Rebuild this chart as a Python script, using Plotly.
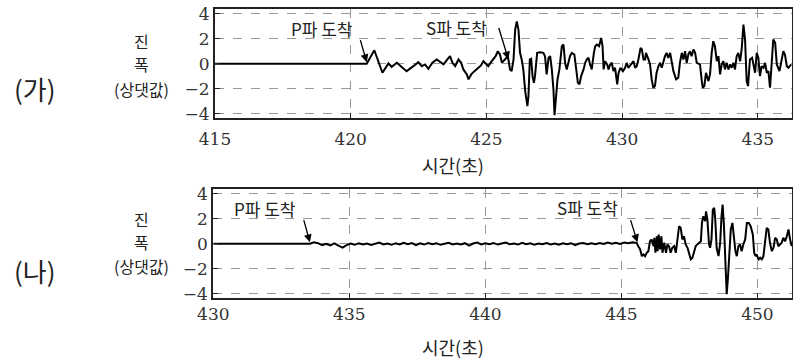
import plotly.graph_objects as go

# ---------------- data: (가) ----------------
ga_t = [415.0, 420.59, 420.87, 421.17, 421.39, 421.51, 421.70, 421.94, 422.06, 422.31, 422.49,
        422.62, 422.74, 422.86, 423.01, 423.17, 423.29, 423.42, 423.54, 423.66, 423.75,
        423.85, 423.97, 424.07, 424.15, 424.28, 424.34, 424.44, 424.56, 424.68, 424.80,
        424.89, 424.95, 425.07, 425.17, 425.26, 425.34, 425.42, 425.50, 425.57,
        425.69, 425.79, 425.87, 425.93, 426.00, 426.06, 426.12, 426.18, 426.24, 426.30,
        426.36, 426.43, 426.51, 426.55, 426.60, 426.65, 426.70, 426.75, 426.79, 426.87,
        426.98, 427.10, 427.16, 427.22, 427.29, 427.35, 427.41, 427.47, 427.51, 427.57,
        427.62, 427.69, 427.78, 427.84, 427.90, 427.96, 428.02, 428.08, 428.15, 428.24,
        428.31, 428.37, 428.43, 428.49, 428.58, 428.64, 428.70, 428.76, 428.82, 428.88,
        428.96, 429.01, 429.07, 429.15, 429.23, 429.28, 429.32, 429.37, 429.45, 429.50,
        429.56, 429.62, 429.68, 429.74, 429.82, 429.87, 429.94, 430.03, 430.11, 430.17,
        430.23, 430.30, 430.36, 430.42, 430.48, 430.54, 430.60, 430.68, 430.73, 430.79,
        430.85,
        430.88, 430.97, 431.03, 431.09, 431.15, 431.21, 431.27, 431.34, 431.40, 431.46,
        431.52, 431.58, 431.64, 431.70, 431.77, 431.83, 431.89, 431.99, 432.07, 432.13,
        432.20, 432.26, 432.32, 432.38, 432.44, 432.50, 432.56, 432.63, 432.69, 432.75,
        432.81, 432.87, 432.93, 432.97, 433.03, 433.09, 433.18, 433.24, 433.30, 433.36,
        433.42, 433.49, 433.55, 433.61, 433.67, 433.73, 433.79, 433.85, 433.92, 433.98,
        434.04, 434.10, 434.16, 434.22, 434.28, 434.35, 434.41, 434.47, 434.53, 434.59,
        434.64, 434.71, 434.79, 434.84, 434.90, 434.96, 435.02, 435.08, 435.14, 435.21,
        435.27, 435.33, 435.39, 435.45, 435.51, 435.57, 435.64, 435.70, 435.80, 435.88,
        435.94, 436.00, 436.07, 436.13, 436.23]
ga_v = [0.0, 0.0, 1.09, -0.72, 0.03, -0.24, 0.08, -0.32, -0.59, -0.19, 0.13,
        -0.19, -0.05, -0.40, 0.08, 0.35, 0.13, -0.05, 0.29, 0.61, 0.08,
        -0.19, 0.35, 0.08, -0.45, -0.85, -1.25, -0.85, -0.59, -0.32, -0.13,
        0.21, 0.08, -0.19, 0.13, 0.35, 0.61, 1.01, 0.75, 0.08,
        0.35, 0.61, -0.45, -0.59, 0.35, 2.75, 3.41, 2.75, 0.88, 0.35,
        -0.45, -2.19, -3.39, -2.59, 0.35, 0.40, -0.99, -1.52, -0.99, 0.88,
        0.93, 0.88, 0.61, -0.85, 0.48, 0.61, -0.45, -2.05, -4.13, -2.05,
        -1.25, -0.45, 1.41, 1.55, 0.08, -0.45, 0.08, 0.61, 0.88, 0.75,
        -0.45, -1.52, -1.65, -0.99, -0.45, 0.08, 0.35, 0.48, -0.05, -0.45,
        0.88, 1.41, 1.55, 1.41, 2.08, 1.41, -0.45, 0.21, -0.05, -0.45,
        -0.05, 0.08, -0.59, -0.32, -1.65, -0.72, -0.32, -0.59, -0.32, 0.08,
        -0.32, -0.13, 0.08, 0.21, -0.32, -0.19, 0.35, 1.28, 1.15, 0.35,
        0.35,
        0.88, 0.35, -0.05, -1.25, -1.92, -1.79, -0.72, -0.19, 0.08, -0.32,
        0.21, 0.61, 0.88, 0.48, 0.88, 0.08, -0.59, -1.25, -1.12, 0.08,
        0.88, 0.35, 1.01, 0.08, 0.75, 1.01, 0.61, 1.15, 0.88, 0.08,
        0.03, -0.05, -1.25, -1.92, -1.79, -0.72, -1.39, -0.85, 0.88, 1.81,
        1.41, 0.21, 0.61, -0.85, -0.05, 0.21, -0.45, 0.08, -0.45, -0.05,
        -0.32, 0.08, -0.45, 0.61, 0.88, 0.21, 1.28, 3.15, 1.95, -1.39,
        -1.79, 0.35, 0.48, -0.19, -0.72, 0.88, 0.48, -0.99, -0.19, -0.32,
        0.08, -0.72, -0.59, -1.92, -0.19, 1.95, 1.68, -0.05, -0.59, 0.35,
        1.01, 0.75, -0.19, -0.32, -0.05]

# ---------------- data: (나) ----------------
na_t = [430.0, 433.55, 433.70, 433.85, 434.00, 434.15, 434.30, 434.45, 434.60, 434.75, 434.90,
        435.05, 435.20, 435.35, 435.50, 435.65, 435.80, 435.95, 436.10, 436.25, 436.40,
        436.55, 436.70, 436.85, 437.00, 437.15, 437.30, 437.45, 437.60, 437.75, 437.90,
        438.05, 438.20, 438.35, 438.50, 438.65, 438.80, 438.95, 439.10, 439.25, 439.40,
        439.55, 439.70, 439.85, 440.00, 440.15, 440.30, 440.45, 440.60, 440.75, 440.90,
        441.05, 441.20, 441.35, 441.50, 441.65, 441.80, 441.95, 442.10, 442.25, 442.40,
        442.55, 442.70, 442.85, 443.00, 443.15, 443.30, 443.45, 443.60, 443.75, 443.90,
        444.05, 444.20, 444.35, 444.50, 444.65, 444.80, 444.95, 445.10, 445.25, 445.40,
        445.56, 445.62, 445.69, 445.75, 445.81, 445.87, 445.93, 445.99, 446.05, 446.11,
        446.18, 446.21, 446.25, 446.30, 446.33, 446.37, 446.42, 446.47, 446.51, 446.57,
        446.64, 446.69, 446.75, 446.81, 446.87, 446.94, 447.00, 447.06, 447.12, 447.18,
        447.24, 447.30, 447.36, 447.43, 447.49, 447.55, 447.61, 447.67, 447.73, 447.79,
        447.85, 447.92, 447.96, 448.01, 448.08, 448.11, 448.16, 448.22, 448.26, 448.31,
        448.36, 448.41, 448.45, 448.50, 448.57, 448.63, 448.68, 448.72, 448.77, 448.82,
        448.87, 448.92, 448.97, 449.02, 449.08, 449.14, 449.19, 449.24, 449.30, 449.36,
        449.42, 449.48, 449.55, 449.61, 449.68, 449.75, 449.83, 449.88, 449.93, 449.97,
        450.04, 450.10, 450.16, 450.22, 450.28, 450.34, 450.40, 450.46, 450.53, 450.59,
        450.65, 450.71, 450.77, 450.83, 450.89, 450.95, 451.02, 451.08, 451.14, 451.20,
        451.26]
na_v = [0.0, 0.0, 0.12, 0.05, -0.10, 0.0, -0.12, 0.03, -0.15, -0.30, -0.10,
        0.02, -0.08, 0.05, -0.05, 0.02, -0.10, 0.0, 0.10, -0.05, 0.03,
        -0.08, 0.05, -0.05, 0.08, -0.03, 0.06, -0.10, 0.04, -0.06, 0.07,
        -0.04, 0.05, -0.08, 0.02, 0.08, -0.05, 0.03, -0.06, 0.05, -0.15,
        0.02, 0.10, -0.05, 0.04, -0.04, 0.07, -0.06, 0.03, 0.10, -0.04,
        0.02, -0.06, 0.08, -0.03, 0.04, -0.07, 0.03, -0.04, 0.06, -0.05,
        0.02, -0.08, 0.04, -0.03, 0.05, -0.10, 0.02, 0.06, -0.04, 0.05,
        -0.03, 0.07, -0.02, 0.10, 0.0, 0.08, -0.02, 0.10, 0.05, 0.12,
        0.08, -0.19, -0.45, -0.99, -0.85, -0.99, -0.72, -0.59, 0.21, 0.35,
        -0.19, 0.48, -0.72, 0.61, -0.59, 0.75, -0.45, 0.61, -0.72, 0.08,
        -0.72, -0.05, -0.19, -0.72, -0.32, -0.19, -0.72, 0.35, 1.41, 1.28,
        0.35, 0.61, -0.05, -0.32, -0.72, -1.25, -1.12, -0.72, -0.19, -0.05,
        0.08, 0.21, 1.68, 2.21, 1.81, 2.61, 1.95, -0.05, -0.32, 0.35,
        2.75, 2.88, 1.95, -0.32, -0.99, 0.08, 2.21, 3.15, 1.41, -2.32,
        -4.05, -2.59, -0.19, 1.15, 1.68, 0.35, -0.59, -0.99, -0.19, -0.05,
        -0.59, -0.05, 0.35, 1.68, 1.68, 1.41, 0.75, -0.72, -0.99, -0.85,
        -1.25, -1.12, -1.25, -0.99, 0.35, 1.28, 1.15, 0.08, -0.59, -0.32,
        0.48, 0.35, -0.19, -0.05, 0.08, 0.48, 0.21, 0.61, 1.15, 0.35,
        -0.19]

y_ticks = [-4, -2, 0, 2, 4]
ga_x_ticks = [415, 420, 425, 430, 435]
na_x_ticks = [430, 435, 440, 445, 450]

ga_arrivals = {"P파 도착": dict(text=(418.94, 2.82), tail=(420.34, 2.02), head=(420.59, 0.13)),
               "S파 도착": dict(text=(423.90, 2.90), tail=(425.44, 3.00), head=(425.81, 0.35))}
na_arrivals = {"P파 도착": dict(text=(431.90, 2.82), tail=(433.31, 2.02), head=(433.55, 0.13)),
               "S파 도착": dict(text=(443.76, 2.95), tail=(445.32, 2.02), head=(445.59, 0.13))}

SERIF = "DejaVu Serif"
KFONT = "Noto Sans CJK KR"
W, H = 793, 361

fig = go.Figure()
fig.add_trace(go.Scatter(x=ga_t, y=ga_v, mode="lines", line=dict(color="black", width=2),
                         xaxis="x", yaxis="y", showlegend=False, hoverinfo="skip"))
fig.add_trace(go.Scatter(x=na_t, y=na_v, mode="lines", line=dict(color="black", width=2),
                         xaxis="x2", yaxis="y2", showlegend=False, hoverinfo="skip"))

def xax(rng, ticks, dom, anchor, standoff):
    return dict(domain=dom, range=rng, tickvals=ticks, ticks="inside", ticklen=5,
                tickcolor="#222", showgrid=True, gridcolor="#999", griddash="dash",
                gridwidth=1, showline=True, mirror=True, linecolor="#222", linewidth=2,
                zeroline=False, anchor=anchor, automargin=False, ticklabelstandoff=standoff,
                tickfont=dict(family=SERIF, size=17, color="#333"))

def yax(dom, anchor):
    return dict(domain=dom, range=[-4.35, 4.4], tickvals=y_ticks, ticks="inside", ticklen=5,
                tickcolor="#222", showgrid=True, gridcolor="#999", griddash="dash",
                gridwidth=1, showline=True, mirror=True, linecolor="#222", linewidth=2,
                zeroline=False, anchor=anchor, automargin=False,
                tickfont=dict(family=SERIF, size=17, color="#333"))

fig.update_layout(
    template="none",
    width=W, height=H, margin=dict(l=0, r=0, t=0, b=0, pad=0, autoexpand=False),
    paper_bgcolor="white", plot_bgcolor="white",
    xaxis=xax([415, 436.26], ga_x_ticks, [215 / W, 792 / W], "y", 5),
    yaxis=yax([1 - 118 / H, 1 - 9 / H], "x"),
    xaxis2=xax([430, 451.27], na_x_ticks, [213.3 / W, 792 / W], "y2", 0),
    yaxis2=yax([1 - 298 / H, 1 - 189 / H], "x2"),
)

anns = []
for arr, xr, yr in [(ga_arrivals, "x", "y"), (na_arrivals, "x2", "y2")]:
    for label, d in arr.items():
        anns.append(dict(x=d["text"][0], y=d["text"][1], xref=xr, yref=yr, text=label,
                         xanchor="center", yanchor="middle",
                         showarrow=False, font=dict(family=KFONT, size=17, color="#222")))
        anns.append(dict(x=d["head"][0], y=d["head"][1], ax=d["tail"][0], ay=d["tail"][1],
                         xref=xr, yref=yr, axref=xr, ayref=yr, text="", showarrow=True,
                         arrowhead=2, arrowsize=1.2, arrowwidth=1.3, arrowcolor="black"))

def paper(px, py):
    return px / W, 1 - py / H

def label(txt, px, py, size):
    x, y = paper(px, py)
    anns.append(dict(x=x, y=y, xref="paper", yref="paper", text=txt, showarrow=False,
                     xanchor="center", yanchor="middle",
                     font=dict(family=KFONT, size=size, color="#222")))

for (lbl, cy) in [("(가)", 88), ("(나)", 270)]:
    label(lbl, 35, cy, 26)
for (y1, y2, y3) in [(41, 64, 89), (219, 242, 266)]:
    label("진", 141, y1, 16)
    label("폭", 141, y2, 16)
    label("(상댓값)", 141, y3, 16)
for cx, cy in [(453, 165), (453, 347)]:
    label("시간(초)", cx, cy, 18)

fig.update_layout(annotations=anns)
fig.write_html("out.html", config={"displayModeBar": False},
               post_script="document.body.style.margin='0';document.body.style.overflow='hidden';")
